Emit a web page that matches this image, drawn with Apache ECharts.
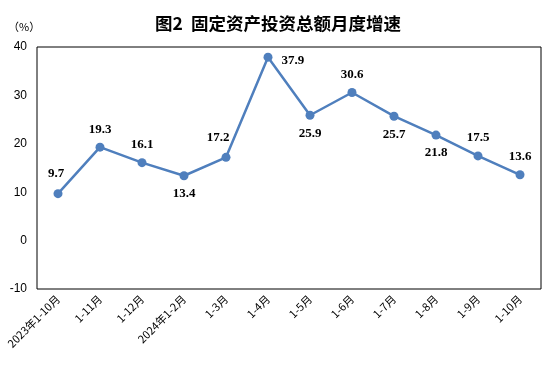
<!DOCTYPE html>
<html><head><meta charset="utf-8">
<script src="https://cdn.jsdelivr.net/npm/echarts@6/dist/echarts.min.js"></script>
<style>html,body{margin:0;padding:0;background:#fff}#c{width:554px;height:368px}</style>
</head><body><div id="c"></div>
<script>
const categories = ['2023年1-10月','1-11月','1-12月','2024年1-2月','1-3月','1-4月','1-5月','1-6月','1-7月','1-8月','1-9月','1-10月'];
const values = [9.7, 19.3, 16.1, 13.4, 17.2, 37.9, 25.9, 30.6, 25.7, 21.8, 17.5, 13.6];
const labelPos = ['top','top','top','bottom','top','right','bottom','top','bottom','bottom','top','top'];
const labelOffset = [[-2,-2],[0,0],[0,0],[0,0],[-8,-2],[2,3],[0,0],[0,0],[0,0],[0,0],[0,0],[0,0]];
const yTicks = [-10, 0, 10, 20, 30, 40];

const chart = echarts.init(document.getElementById('c'));
chart.setOption({
  animation: false,
  title: {
    text: '图2  固定资产投资总额月度增速',
    left: 273, top: 10, textAlign: 'center',
    textStyle: {fontSize: 17.5, fontWeight: 'bold', color: '#000', fontFamily: 'Noto Sans CJK SC'}
  },
  graphic: [{type: 'text', left: 8, top: 21, style: {text: '（%）', fontSize: 11, fill: '#000', fontFamily: 'Noto Sans CJK SC'}}],
  grid: {left: 37, right: 13, top: 47, bottom: 79, show: true, borderColor: '#000', borderWidth: 1},
  xAxis: {
    type: 'category', data: categories, boundaryGap: true,
    axisLine: {show: false}, axisTick: {show: false},
    axisLabel: {rotate: 45, fontSize: 11, color: '#000', margin: 8, interval: 0, fontFamily: 'Noto Sans CJK SC'}
  },
  yAxis: {
    type: 'value', min: -10, max: 40, interval: 10,
    splitLine: {show: false}, axisLine: {show: false}, axisTick: {show: false},
    axisLabel: {fontSize: 12, color: '#000', margin: 10, fontFamily: 'Liberation Sans',
      formatter: v => yTicks.includes(v) ? String(v) : ''}
  },
  series: [{
    type: 'line', symbol: 'circle', symbolSize: 9,
    lineStyle: {color: '#4F7FBD', width: 2.5},
    itemStyle: {color: '#4F7FBD'},
    data: values.map((v, i) => ({
      value: v,
      label: {show: true, position: labelPos[i], offset: labelOffset[i], distance: 7,
        fontSize: 13, fontWeight: 'bold', color: '#000', fontFamily: 'Liberation Serif',
        formatter: p => p.value.toFixed(1)}
    }))
  }]
});
</script></body></html>
